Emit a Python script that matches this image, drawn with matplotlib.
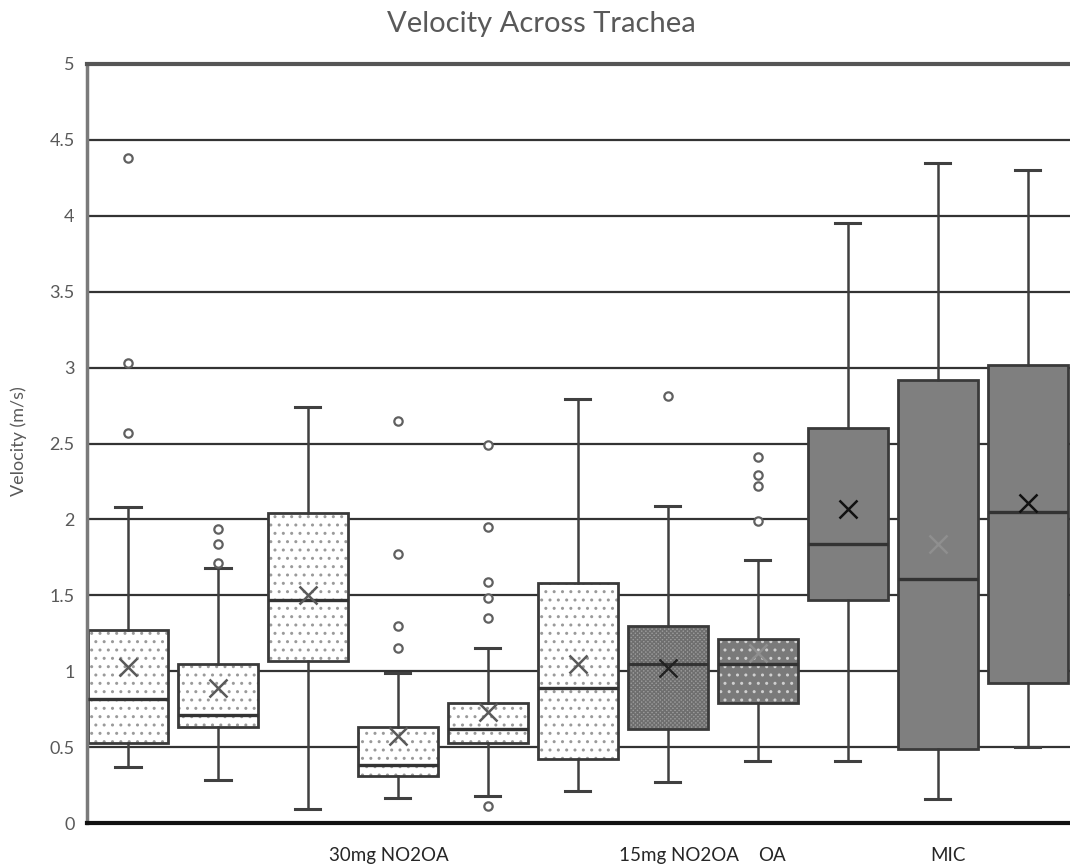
import matplotlib.pyplot as plt
from matplotlib.patches import PathPatch

plt.rcParams['font.family'] = ['Lato', 'DejaVu Sans']

# Box statistics per group, left to right
q1 = [0.53, 0.63, 1.07, 0.31, 0.53, 0.42, 0.62, 0.79, 1.47, 0.49, 0.92]
med = [0.82, 0.71, 1.47, 0.38, 0.62, 0.89, 1.05, 1.05, 1.84, 1.61, 2.05]
q3 = [1.27, 1.05, 2.04, 0.63, 0.79, 1.58, 1.30, 1.21, 2.60, 2.92, 3.02]
whislo = [0.37, 0.28, 0.09, 0.165, 0.18, 0.21, 0.27, 0.41, 0.41, 0.16, 0.50]
whishi = [2.08, 1.68, 2.74, 0.99, 1.15, 2.79, 2.09, 1.73, 3.95, 4.35, 4.30]
means = [1.03, 0.89, 1.50, 0.57, 0.73, 1.05, 1.02, 1.12, 2.07, 1.84, 2.11]
fliers = [
    [4.38, 3.03, 2.57],
    [1.94, 1.84, 1.71],
    [],
    [2.65, 1.77, 1.30, 1.15],
    [2.49, 1.95, 1.59, 1.48, 1.35, 0.11],
    [],
    [2.81],
    [2.41, 2.29, 2.22, 1.99],
    [],
    [],
    [],
]

group_labels = ['30mg NO2OA', '15mg NO2OA', 'OA', 'MIC']
label_pos = [3.9, 7.12, 8.16, 10.11]

# fill style per box: (face, hatch, hatch colour, mean marker colour)
styles = [('white', '..', '#9a9a9a', '#5a5a5a')] * 6 + [
    ('#9a9a9a', 'xxxxxxxx', '#6e6e6e', '#222222'),
    ('#7a7a7a', '..', '#d0d0d0', '#8f8f8f'),
    ('#7f7f7f', '', '#7f7f7f', '#111111'),
    ('#7f7f7f', '', '#7f7f7f', '#8f8f8f'),
    ('#7f7f7f', '', '#7f7f7f', '#111111'),
]

stats = []
for i in range(len(med)):
    stats.append({'q1': q1[i], 'med': med[i], 'q3': q3[i], 'whislo': whislo[i],
                  'whishi': whishi[i], 'mean': means[i], 'fliers': fliers[i]})

fig = plt.figure(figsize=(10.7, 8.67), dpi=100)
ax = fig.add_axes([87 / 1070, 44 / 867, 983 / 1070, 759 / 867])

for y in [0.5, 1, 1.5, 2, 2.5, 3, 3.5, 4, 4.5]:
    ax.axhline(y, color='#333333', lw=1.6, zorder=0)

res = ax.bxp(stats, positions=range(1, 12), widths=0.89, capwidths=0.28,
             patch_artist=True, showmeans=False, showfliers=True,
             whiskerprops=dict(color='#404040', lw=1.8),
             capprops=dict(color='#404040', lw=2.2),
             medianprops=dict(color='#333333', lw=2.4),
             flierprops=dict(marker='o', markersize=6, markerfacecolor='white',
                             markeredgecolor='#606060', markeredgewidth=1.6),
             boxprops=dict(lw=0))

for box, (face, hatch, hcol, mcol) in zip(res['boxes'], styles):
    box.set_facecolor(face)
    box.set_hatch(hatch)
    box.set_edgecolor(hcol)
    box.set_linewidth(0)
    box.set_zorder(2)
    outline = PathPatch(box.get_path(), facecolor='none', edgecolor='#3a3a3a',
                        lw=2, zorder=2.5)
    ax.add_patch(outline)

for m in res['medians']:
    m.set_zorder(3)

for i, (face, hatch, hcol, mcol) in enumerate(styles):
    ax.plot(i + 1, means[i], marker='x', markersize=13, mew=1.8, color=mcol,
            zorder=4, linestyle='none')

ax.set_xlim(0.545, 11.47)
ax.set_ylim(0, 5)
ax.set_yticks([0, 0.5, 1, 1.5, 2, 2.5, 3, 3.5, 4, 4.5, 5])
ax.set_yticklabels(['0', '0.5', '1', '1.5', '2', '2.5', '3', '3.5', '4', '4.5', '5'])
ax.tick_params(axis='y', length=0, pad=9, labelsize=13, labelcolor='#595959')
ax.set_xticks(label_pos)
ax.set_xticklabels(group_labels)
ax.tick_params(axis='x', length=0, pad=17, labelsize=13.5, labelcolor='#262626')

ax.spines['top'].set_color('#555555')
ax.spines['top'].set_linewidth(3)
ax.spines['left'].set_color('#7a7a7a')
ax.spines['left'].set_linewidth(2.5)
ax.spines['bottom'].set_color('#111111')
ax.spines['bottom'].set_linewidth(3)
ax.spines['right'].set_visible(False)

fig.text(541 / 1070, 1 - 24 / 867, 'Velocity Across Trachea', ha='center',
         va='center', fontsize=21, color='#595959')
fig.text(19 / 1070, 1 - 441 / 867, 'Velocity (m/s)', rotation=90, ha='center',
         va='center', fontsize=13, color='#595959')

fig.savefig('out.png', dpi=100)
